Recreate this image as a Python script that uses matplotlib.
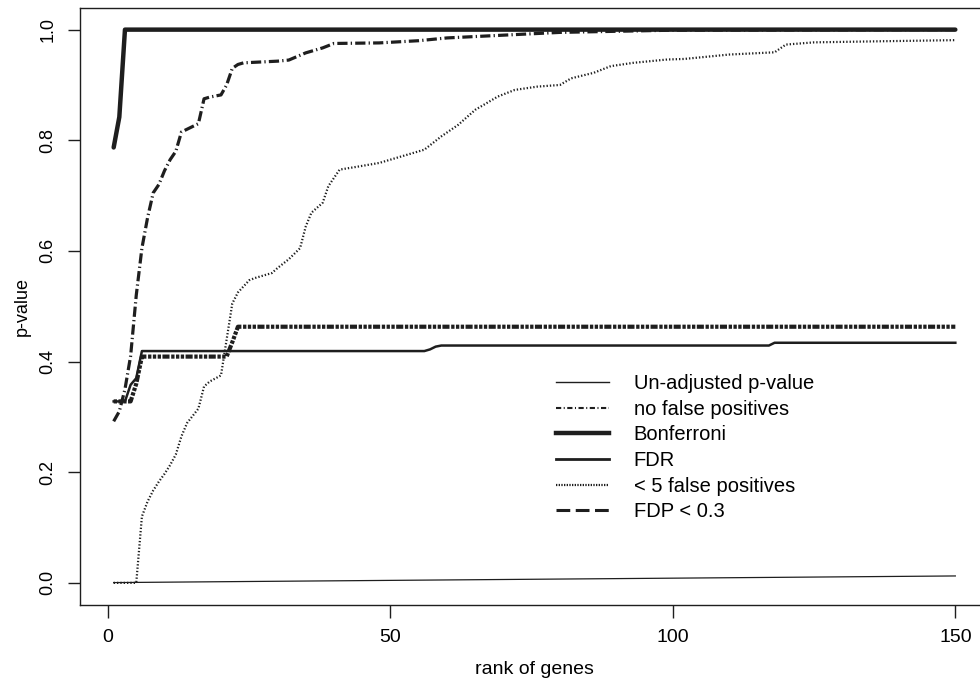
import numpy as np
import matplotlib
matplotlib.use('Agg')
import matplotlib.pyplot as plt
from matplotlib.lines import Line2D

plt.rcParams['font.family'] = ['Liberation Sans', 'DejaVu Sans']

# values (rank of gene, p-value)
unadj_x = [1, 25, 50, 75, 100, 125, 150]
unadj_y = [0.0005, 0.0025, 0.0045, 0.0065, 0.0085, 0.0105, 0.0125]

nofp_x = [1, 2, 3, 4, 5, 6, 7, 8, 9, 10, 11, 12, 13, 14, 15, 16, 17, 18, 19, 20,
          21, 22, 23, 24, 30, 32, 35, 38, 40, 48, 55, 60, 70, 80, 90, 100, 150]
nofp_y = [0.292, 0.31, 0.35, 0.41, 0.52, 0.605, 0.66, 0.705, 0.72, 0.745, 0.765,
          0.78, 0.815, 0.82, 0.825, 0.83, 0.875, 0.878, 0.88, 0.882, 0.90, 0.93,
          0.937, 0.94, 0.943, 0.945, 0.958, 0.967, 0.975, 0.976, 0.98, 0.985,
          0.99, 0.995, 0.997, 0.999, 1.0]

bonf_x = [1, 2, 3, 150]
bonf_y = [0.787, 0.842, 1.0, 1.0]

fdr_x = [1, 3, 4, 5, 6, 56, 57, 58, 59, 117, 118, 150]
fdr_y = [0.328, 0.328, 0.358, 0.37, 0.419, 0.419, 0.422, 0.427, 0.429, 0.429, 0.434, 0.434]

k5_x = [1, 5, 6, 7, 8, 9, 10, 11, 12, 13, 14, 16, 17, 18, 20, 21, 22, 23, 25, 26,
        29, 30, 32, 33, 34, 35, 36, 38, 39, 41, 44, 48, 53, 56, 59, 62, 65, 69,
        72, 76, 80, 82, 86, 89, 93, 99, 102, 110, 118, 120, 125, 137, 150]
k5_y = [0.0, 0.0, 0.12, 0.147, 0.167, 0.183, 0.197, 0.213, 0.232, 0.265, 0.289,
        0.315, 0.355, 0.364, 0.375, 0.44, 0.505, 0.525, 0.547, 0.551, 0.56, 0.569,
        0.585, 0.595, 0.605, 0.644, 0.669, 0.687, 0.717, 0.747, 0.752, 0.759,
        0.774, 0.783, 0.807, 0.828, 0.855, 0.879, 0.891, 0.897, 0.9, 0.912, 0.922,
        0.934, 0.94, 0.946, 0.947, 0.955, 0.959, 0.973, 0.977, 0.979, 0.981]

fdp_x = [1, 4, 5, 6, 21, 22, 23, 150]
fdp_y = [0.328, 0.328, 0.36, 0.409, 0.409, 0.435, 0.463, 0.463]

labels = ['Un-adjusted p-value', 'no false positives', 'Bonferroni', 'FDR',
          '< 5 false positives', 'FDP < 0.3']

col = '#1e1e1e'

fig = plt.figure(figsize=(9.8, 6.82), dpi=100)
ax = fig.add_axes([80 / 980, 77 / 682, 909 / 980, 597.5 / 682])

ax.plot(unadj_x, unadj_y, color=col, lw=0.9)
ax.plot(k5_x, k5_y, color=col, lw=1.6, dashes=(0.6, 0.9))
ax.plot(fdr_x, fdr_y, color=col, lw=1.8)
ax.plot(fdp_x, fdp_y, color=col, lw=3.0, dashes=(0.8, 0.35, 0.8, 0.35, 0.8, 0.35, 1.7, 0.4))
ax.plot(nofp_x, nofp_y, color=col, lw=2.3, dashes=(3.2, 1.0, 0.4, 1.0))
ax.plot(bonf_x, bonf_y, color=col, lw=3.2, solid_capstyle='round')

ax.set_xlim(-4.96, 155.96)
ax.set_ylim(-0.04, 1.04)
ax.set_xticks([0, 50, 100, 150])
ax.set_yticks([0.0, 0.2, 0.4, 0.6, 0.8, 1.0])
ax.set_yticklabels(['0.0', '0.2', '0.4', '0.6', '0.8', '1.0'])
for s in ax.spines.values():
    s.set_linewidth(1.0)
    s.set_color(col)
ax.tick_params(axis='both', direction='out', length=9, width=1.0, color=col)
ax.tick_params(axis='x', labelsize=14, pad=8)
ax.tick_params(axis='y', labelsize=13, pad=8, labelrotation=90)
for t in ax.get_yticklabels():
    t.set_va('center')

ax.set_xlabel('rank of genes', fontsize=14, labelpad=11)
ax.set_ylabel('p-value', fontsize=13, labelpad=6)

handles = [
    Line2D([], [], color=col, lw=1.0),
    Line2D([], [], color=col, lw=1.5, dashes=(2.5, 1.2, 0.5, 1.2)),
    Line2D([], [], color=col, lw=3.2),
    Line2D([], [], color=col, lw=2.0),
    Line2D([], [], color=col, lw=1.6, dashes=(0.6, 0.6)),
    Line2D([], [], color=col, lw=2.2, dashes=(4.5, 1.8)),
]
ax.legend(handles, labels, loc='upper left', frameon=False, fontsize=14.5,
          bbox_to_anchor=(556 / 980, 1 - 374 / 682), bbox_transform=fig.transFigure,
          borderaxespad=0, borderpad=0, handlelength=2.65, handletextpad=1.2,
          labelspacing=0.33)

fig.savefig('out.png', dpi=100)
